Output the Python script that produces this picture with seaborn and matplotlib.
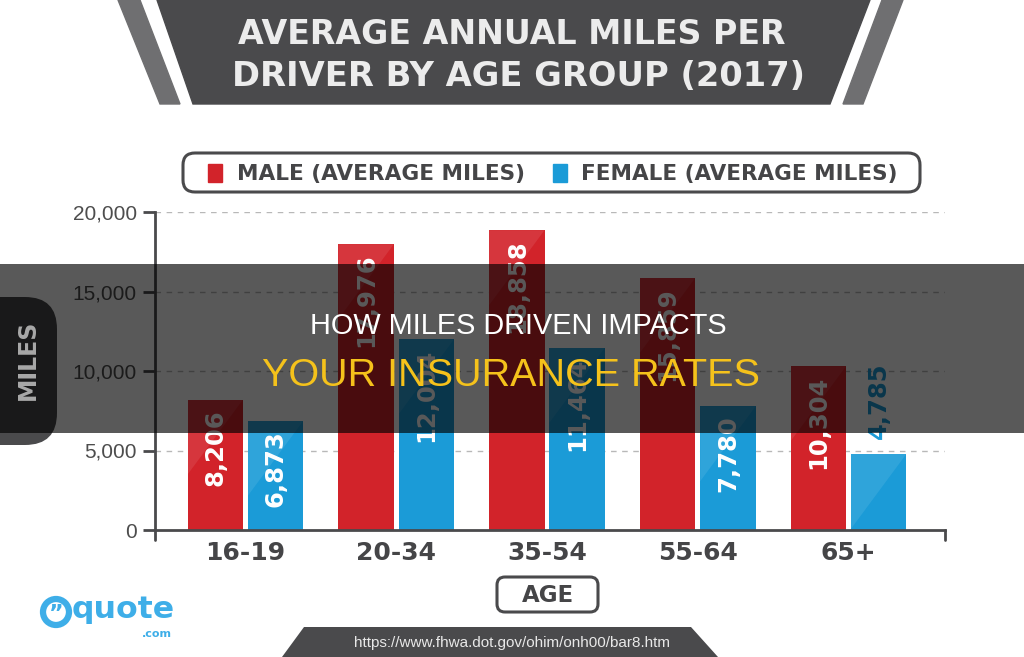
import matplotlib
matplotlib.use("Agg")
import matplotlib.pyplot as plt
import pandas as pd
import seaborn as sns
from matplotlib.patches import Polygon, FancyBboxPatch, Rectangle, Circle
from matplotlib.transforms import Affine2D

# chart data
age_groups = ["16-19", "20-34", "35-54", "55-64", "65+"]
male_miles = [8206, 17976, 18858, 15859, 10304]
female_miles = [6873, 12004, 11464, 7780, 4785]
series_names = ["MALE (AVERAGE MILES)", "FEMALE (AVERAGE MILES)"]
y_ticks = [0, 5000, 10000, 15000, 20000]

title_lines = ["AVERAGE ANNUAL MILES PER", "DRIVER BY AGE GROUP (2017)"]
overlay_lines = ["HOW MILES DRIVEN IMPACTS", "YOUR INSURANCE RATES"]
source_url = "https://www.fhwa.dot.gov/ohim/onh00/bar8.htm"

RED = "#d2232a"
BLUE = "#1b9bd7"
DARK = "#4a4a4c"
TEXT = "#454547"
LOGO = "#3eaee8"

W, H = 1024, 657


def fit(t, width):
    # scale the font so the text spans `width` pixels
    r = fig.canvas.get_renderer()
    w = t.get_window_extent(r).width
    t.set_fontsize(t.get_fontsize() * width / w)


df = pd.DataFrame({
    "age": age_groups * 2,
    "miles": male_miles + female_miles,
    "sex": ["male"] * len(age_groups) + ["female"] * len(age_groups),
})

sns.set_theme(style="white")
plt.rcParams["font.family"] = ["DejaVu Sans"]

fig = plt.figure(figsize=(W / 100, H / 100), dpi=100)
pix = Affine2D().scale(1 / W, -1 / H).translate(0, 1) + fig.transFigure

ax = fig.add_axes([155 / W, 1 - 530 / H, (945 - 155) / W, (530 - 212) / H])
sns.barplot(data=df, x="age", y="miles", hue="sex", palette=[RED, BLUE],
            width=0.8, gap=0.08, saturation=1, legend=False, ax=ax,
            edgecolor="none", err_kws={"linewidth": 0})

ax.set_xlim(-0.6, 4.64)
ax.set_ylim(0, 20000)
ax.set_xlabel("")
ax.set_ylabel("")
for s in ["top", "right"]:
    ax.spines[s].set_visible(False)
for s in ["left", "bottom"]:
    ax.spines[s].set_color(DARK)
    ax.spines[s].set_linewidth(2)

ax.set_yticks(y_ticks)
ax.set_yticklabels([f"{v:,}" for v in y_ticks], family="Liberation Sans",
                   fontsize=15, color="#4d4d4d")
ax.tick_params(axis="y", direction="out", length=9, width=2, color=DARK, pad=4, left=True)
ax.tick_params(axis="x", length=0, pad=8)
for lab in ax.get_xticklabels():
    lab.set_fontweight("bold")
    lab.set_fontsize(18)
    lab.set_color(TEXT)

for v in y_ticks[1:]:
    ax.axhline(v, color="#b8b8b8", lw=1, ls=(0, (4, 4)), zorder=0.5)

# small spine extensions below zero
ext = 10 / 318
ax.plot([0, 0], [0, -ext], transform=ax.transAxes, clip_on=False, color=DARK, lw=2)
ax.plot([1, 1], [0, -ext], transform=ax.transAxes, clip_on=False, color=DARK, lw=2)

# glossy highlight and value labels on each bar
units_per_px = 20000 / 318
for container, vals in zip(ax.containers, [male_miles, female_miles]):
    for bar, v in zip(container, vals):
        x0 = bar.get_x()
        bw = bar.get_width()
        h = bar.get_height()
        drop = min(h, 75 * units_per_px)
        ax.add_patch(Polygon([(x0, h), (x0 + bw, h), (x0, h - drop)],
                             color="white", alpha=0.09, lw=0, zorder=1.5))
        x = x0 + bw / 2
        if v > 6000:
            ax.text(x, h - 600, f"{v:,}", rotation=90, ha="center", va="top",
                    color="white", fontsize=17.5, fontweight="bold")
        else:
            ax.text(x, h + 950, f"{v:,}", rotation=90, ha="center", va="bottom",
                    color=BLUE, fontsize=17.5, fontweight="bold")

# title banner
fig.add_artist(Polygon([(118, 0), (140, 0), (180, 104), (160, 104)], transform=pix, color="#6f6f71"))
fig.add_artist(Polygon([(882, 0), (903, 0), (863, 104), (843, 104)], transform=pix, color="#6f6f71"))
fig.add_artist(Polygon([(157, 0), (870, 0), (830, 104), (193, 104)], transform=pix, color=DARK))
t1 = fig.text(512, 34, title_lines[0], transform=pix, ha="center", va="center",
              color="#ececec", fontweight="bold", fontsize=24)
t2 = fig.text(518, 76, title_lines[1], transform=pix, ha="center", va="center",
              color="#ececec", fontweight="bold", fontsize=24)
fit(t1, 550)
fit(t2, 575)

# legend box
fig.add_artist(FancyBboxPatch((183, 153), 737, 39, boxstyle="round,pad=0,rounding_size=12",
                              transform=pix, fc="white", ec=DARK, lw=2.2))
fig.add_artist(Rectangle((208, 164), 14, 18, transform=pix, color=RED))
fig.add_artist(Rectangle((553, 164), 14, 18, transform=pix, color=BLUE))
l1 = fig.text(237, 174, series_names[0], transform=pix, ha="left", va="center",
              color=TEXT, fontweight="bold", fontsize=17)
l2 = fig.text(581, 174, series_names[1], transform=pix, ha="left", va="center",
              color=TEXT, fontweight="bold", fontsize=17)
fit(l1, 288)
fit(l2, 316)

# y axis label tab
fig.add_artist(FancyBboxPatch((-40, 297), 97, 148, boxstyle="round,pad=0,rounding_size=32",
                              transform=pix, color=DARK, lw=0, zorder=2))
fig.text(28, 360, "MILES", transform=pix, rotation=90, ha="center", va="center",
         color="#a9a9a9", fontweight="bold", fontsize=17, zorder=7)

# x axis label box
fig.add_artist(FancyBboxPatch((497, 577), 101, 35, boxstyle="round,pad=0,rounding_size=8",
                              transform=pix, fc="white", ec=DARK, lw=2.2))
ag = fig.text(548, 595, "AGE", transform=pix, ha="center", va="center",
              color=TEXT, fontweight="bold", fontsize=17)
fit(ag, 52)

# source banner
fig.add_artist(Polygon([(304, 627), (691, 627), (718, 657), (282, 657)], transform=pix,
                       color=DARK, lw=0))
fig.text(512, 643, source_url, transform=pix, ha="center", va="center",
         color="#e8e8e8", family="Liberation Sans", fontsize=11)

# logo
fig.add_artist(Circle((56, 612), 13, transform=pix, fill=False, ec=LOGO, lw=4.5))
fig.text(56, 614, "\u201d", transform=pix, ha="center", va="center", color=LOGO,
         fontweight="bold", fontsize=16)
q = fig.text(72, 610, "quote", transform=pix, ha="left", va="center", color=LOGO,
             fontweight="bold", fontsize=26)
fit(q, 103)
fig.text(172, 634, ".com", transform=pix, ha="right", va="center", color=LOGO,
         fontweight="bold", fontsize=8)

# dark overlay band with headline
fig.add_artist(Rectangle((0, 264), W, 169, transform=pix, fc="black", ec="none", lw=0,
                         alpha=0.65, zorder=5))
o1 = fig.text(518, 326, overlay_lines[0], transform=pix, ha="center", va="center",
              color="white", family="Liberation Sans", fontsize=20, zorder=6)
o2 = fig.text(511, 376, overlay_lines[1], transform=pix, ha="center", va="center",
              color="#f5c21b", family="Liberation Sans", fontsize=28, zorder=6)
fit(o1, 415)
fit(o2, 497)

fig.savefig("out.png", dpi=100)
